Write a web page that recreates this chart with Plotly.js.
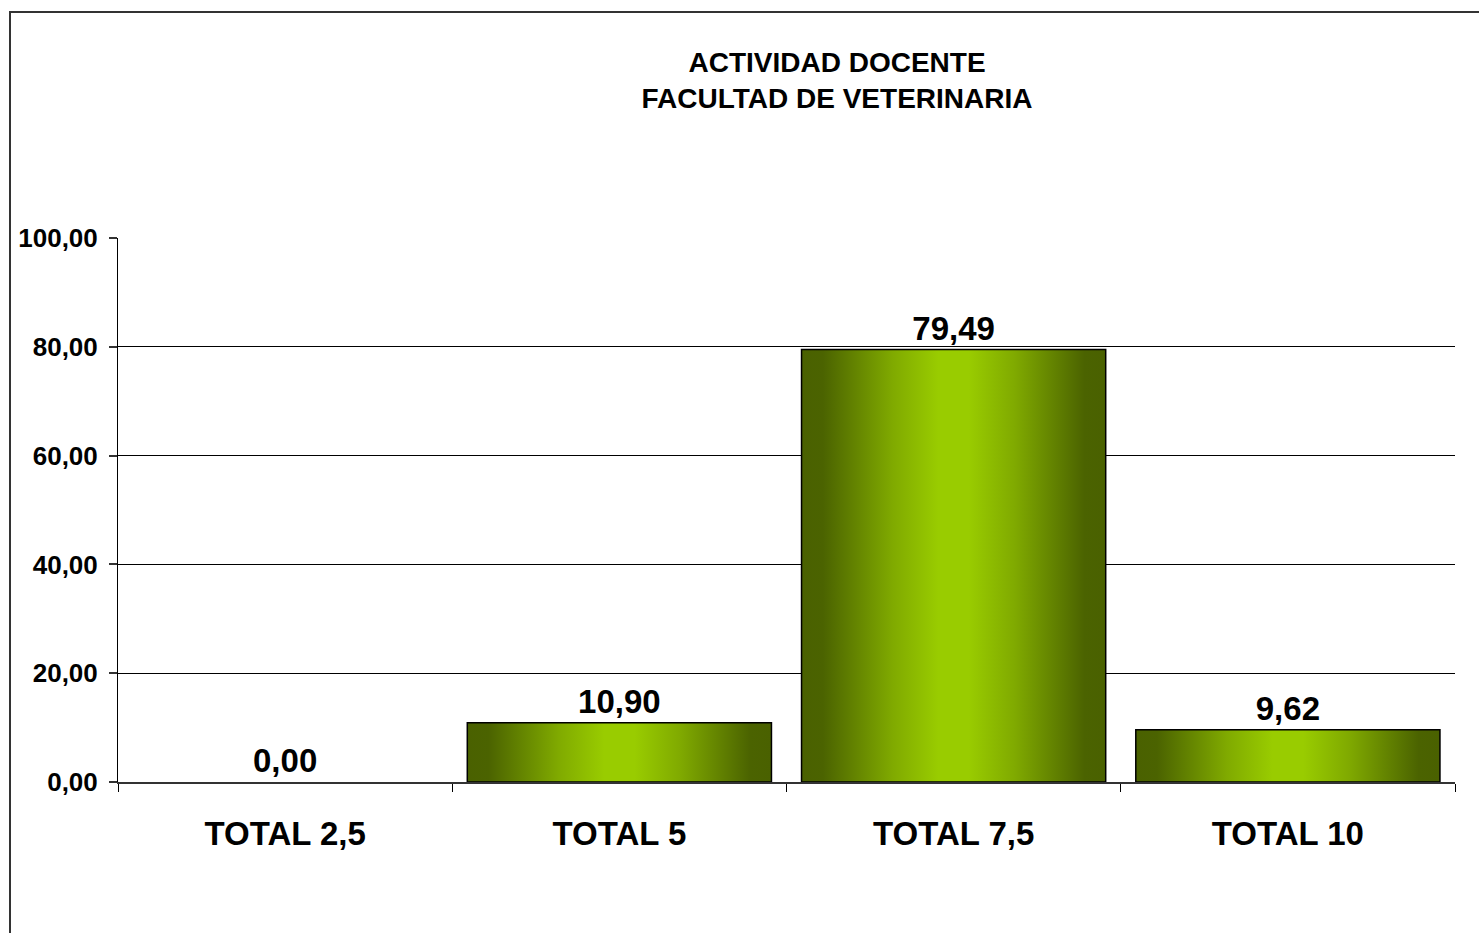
<!DOCTYPE html>
<html>
<head>
<meta charset="utf-8">
<script src="https://cdn.plot.ly/plotly-3.0.1.min.js"></script>
<style>
  html, body { margin: 0; padding: 0; background: #fff; overflow: hidden; }
  #frame { position: absolute; left: 9px; top: 11px; width: 1600px; height: 1100px; border-left: 2px solid #333; border-top: 2px solid #333; pointer-events: none; z-index: 5; }
  #chart { position: absolute; left: 0; top: 0; width: 1479px; height: 933px; }
</style>
</head>
<body>
<div id="chart"></div>
<div id="frame"></div>
<script>
const categories = ["TOTAL 2,5", "TOTAL 5", "TOTAL 7,5", "TOTAL 10"];
const values = [0.00, 10.90, 79.49, 9.62];
const titleLines = ["ACTIVIDAD DOCENTE", "FACULTAD DE VETERINARIA"];

const FONT = '"Liberation Sans", Arial, sans-serif';

const trace = {
  type: 'bar',
  x: categories,
  y: values,
  marker: { color: '#8cbf00', line: { color: '#000', width: values.map(v => v > 0 ? 1.5 : 0) } },
  text: values,
  texttemplate: '%{y:.2f}',
  textposition: 'outside',
  cliponaxis: false,
  textfont: { family: FONT, size: 33, color: '#000', weight: 'bold' },
  hoverinfo: 'none'
};

const layout = {
  width: 1479, height: 933,
  margin: { l: 118, r: 24, t: 238, b: 151, pad: 0 },
  paper_bgcolor: '#fff', plot_bgcolor: '#fff',
  separators: ',.',
  bargap: 0.09,
  showlegend: false,
  font: { family: FONT, color: '#000' },
  title: {
    text: '<b>' + titleLines.join('<br>') + '</b>',
    font: { family: FONT, size: 28, color: '#000' },
    x: 837 / 1479, xanchor: 'center', xref: 'container',
    y: 1 - 72 / 933, yanchor: 'middle', yref: 'container'
  },
  xaxis: {
    type: 'category',
    showline: true, linecolor: '#333', linewidth: 2,
    ticks: 'outside', tickson: 'boundaries', ticklen: 8, tickcolor: '#000', tickwidth: 1,
    tickfont: { family: FONT, size: 33, color: '#000', weight: 'bold' },
    ticklabelstandoff: 21,
    showgrid: false, zeroline: false
  },
  yaxis: {
    range: [0, 100], dtick: 20, tick0: 0,
    tickformat: '.2f',
    showline: true, linecolor: '#000', linewidth: 1,
    ticks: 'outside', ticklen: 8, tickcolor: '#333', tickwidth: 2,
    tickfont: { family: FONT, size: 26, color: '#000', weight: 'bold' },
    ticklabelstandoff: 6,
    showgrid: true, gridcolor: '#000', gridwidth: 1,
    zeroline: false
  }
};

function applyGradient(gd) {
  const svg = gd.querySelector('svg.main-svg');
  if (!svg) return;
  const ns = 'http://www.w3.org/2000/svg';
  let defs = svg.querySelector('defs');
  if (!defs) { defs = document.createElementNS(ns, 'defs'); svg.insertBefore(defs, svg.firstChild); }
  if (!svg.querySelector('#barGrad')) {
    const g = document.createElementNS(ns, 'linearGradient');
    g.setAttribute('id', 'barGrad');
    g.setAttribute('x1', '0'); g.setAttribute('y1', '0');
    g.setAttribute('x2', '1'); g.setAttribute('y2', '0');
    [[0, '#4a6100'], [0.07, '#4b6300'], [0.3, '#80aa00'], [0.45, '#99cc00'], [0.55, '#99cc00'], [0.7, '#80aa00'], [0.93, '#4b6300'], [1, '#4a6100']]
      .forEach(([o, c]) => {
        const s = document.createElementNS(ns, 'stop');
        s.setAttribute('offset', o); s.setAttribute('stop-color', c);
        g.appendChild(s);
      });
    defs.appendChild(g);
  }
  gd.querySelectorAll('.trace.bars .point path').forEach(p => { p.style.fill = 'url(#barGrad)'; });
}

const gd = document.getElementById('chart');
Plotly.newPlot(gd, [trace], layout, { staticPlot: true, displayModeBar: false }).then(() => applyGradient(gd));
</script>
</body>
</html>
